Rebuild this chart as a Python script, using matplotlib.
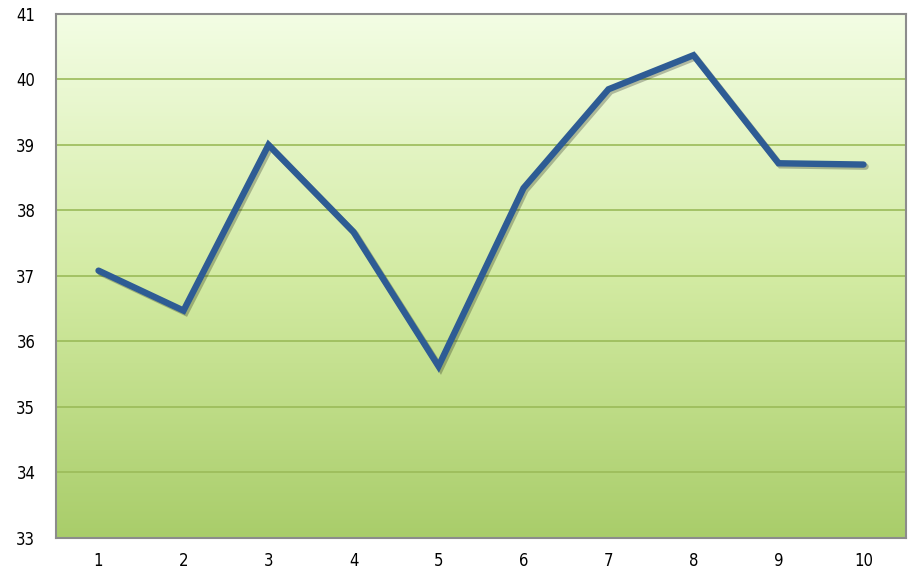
import numpy as np
import matplotlib
matplotlib.use('Agg')
import matplotlib.pyplot as plt
import matplotlib.patheffects as pe
from matplotlib.colors import LinearSegmentedColormap

plt.rcParams['font.family'] = ['Liberation Sans Narrow', 'DejaVu Sans']
plt.rcParams['font.stretch'] = 'condensed'

# 数据
x_labels = ['1', '2', '3', '4', '5', '6', '7', '8', '9', '10']
values = [37.08, 36.47, 39.0, 37.67, 35.62, 38.34, 39.85, 40.37, 38.72, 38.70]

fig = plt.figure(figsize=(9.11, 5.70), dpi=100)
ax = fig.add_axes([0.0615, 0.0565, 0.933, 0.919])

x = np.arange(1, len(values) + 1)

# 渐变背景
cmap = LinearSegmentedColormap.from_list('bg', ['#a9cd6a', '#d3eba3', '#f3fde4'])
grad = np.linspace(0, 1, 256).reshape(-1, 1)
ax.imshow(grad, cmap=cmap, origin='lower', aspect='auto',
          extent=[0.5, 10.5, 33, 41], zorder=0)

# 横向网格线
for yv in range(34, 41):
    ax.axhline(yv, color='#9bbb59', linewidth=1.2, zorder=1)

ax.plot(x, values, color='#2e5c94', linewidth=4.6, solid_capstyle='round',
        solid_joinstyle='miter', zorder=3,
        path_effects=[pe.SimpleLineShadow(offset=(1.5, -1.5), alpha=0.25),
                      pe.Normal()])

ax.set_xlim(0.5, 10.5)
ax.set_ylim(33, 41)
ax.set_xticks(x)
ax.set_xticklabels(x_labels)
ax.set_yticks(range(33, 42))
ax.tick_params(axis='both', length=0, labelsize=12, colors='#000000')
ax.tick_params(axis='x', pad=10)
ax.tick_params(axis='y', pad=15)
for lbl in ax.get_yticklabels():
    lbl.set_horizontalalignment('right')

for s in ax.spines.values():
    s.set_color('#8c8c8c')
    s.set_linewidth(1.5)

fig.savefig('out.png', dpi=100, facecolor='white')
